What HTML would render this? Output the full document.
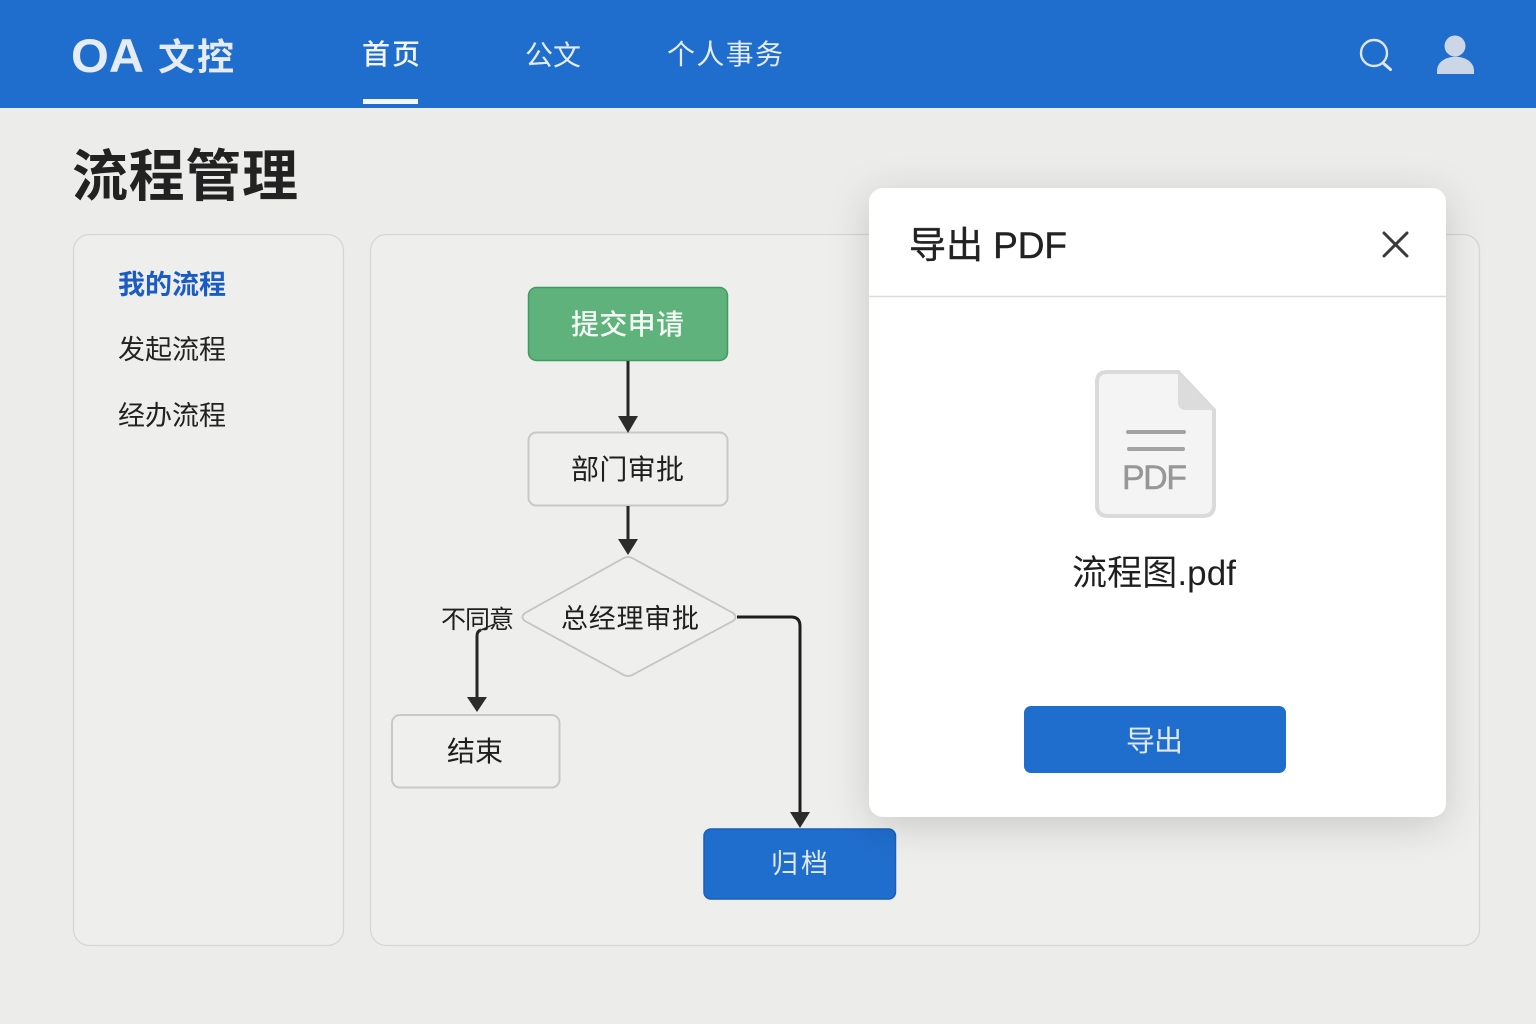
<!DOCTYPE html>
<html lang="zh"><head><meta charset="utf-8"><style>
html,body{margin:0;padding:0;background:#ecedeb}
svg{display:block}
text{font-family:"Liberation Sans","Noto Sans CJK SC",sans-serif}
</style></head><body>
<svg width="1536" height="1024" viewBox="0 0 1536 1024" xmlns="http://www.w3.org/2000/svg">
<defs>
<filter id="s" x="-20%" y="-20%" width="140%" height="140%"><feDropShadow dx="0" dy="8" stdDeviation="20" flood-color="#000" flood-opacity="0.16"/></filter>
</defs>
<rect width="1536" height="1024" fill="#ecedeb"/>
<rect width="1536" height="108" fill="#1f6dcd"/>
<text x="71" y="72" font-size="47" font-weight="700" fill="#e6ecf5" textLength="73" lengthAdjust="spacingAndGlyphs">OA</text>
<text x="158" y="70" font-size="37" font-weight="700" fill="#e6ecf5" textLength="76">文控</text>
<text x="362" y="64" font-size="28" font-weight="500" fill="#f2f5fa" textLength="58">首页</text>
<text x="525" y="65" font-size="28" fill="#e6ecf5" textLength="56">公文</text>
<text x="667" y="64" font-size="28" fill="#e6ecf5" textLength="116">个人事务</text>
<rect x="363" y="99" width="55" height="5" fill="#f4f6fa"/>
<circle cx="1374" cy="53" r="13" fill="none" stroke="#dfe6f2" stroke-width="2.4"/>
<line x1="1383" y1="63" x2="1390.500" y2="69.500" stroke="#dfe6f2" stroke-width="3" stroke-linecap="round"/>
<circle cx="1455" cy="46" r="10.500" fill="#cdd6e6"/>
<path d="M1437 74v-3c0-19 37-19 37 0v3z" fill="#cdd6e6"/>
<text x="72" y="196" font-size="56" font-weight="700" fill="#222" textLength="226">流程管理</text>
<rect x="73.500" y="234.500" width="270" height="711" rx="16" fill="#eeeeec" stroke="#d6d7d5" stroke-width="1.300"/>
<rect x="370.500" y="234.500" width="1109" height="711" rx="16" fill="#eeeeec" stroke="#d6d7d5" stroke-width="1.300"/>
<text x="118" y="294" font-size="27" font-weight="600" fill="#1a5cc4" textLength="108">我的流程</text>
<text x="118" y="359" font-size="27" fill="#222" textLength="108">发起流程</text>
<text x="118" y="425" font-size="27" fill="#222" textLength="108">经办流程</text>
<rect x="528.500" y="287.500" width="199" height="73" rx="8" fill="#60b27c" stroke="#3f9a61" stroke-width="1.500"/>
<text x="571" y="334" font-size="28" font-weight="500" fill="#f2f8f3" textLength="113">提交申请</text>
<rect x="528.500" y="432.500" width="199" height="73" rx="8" fill="#efefed" stroke="#c8c9c7" stroke-width="2"/>
<text x="571" y="479" font-size="28" fill="#1f1f1f" textLength="113">部门审批</text>
<path d="M628 361V418" stroke="#262626" stroke-width="3" fill="none"/>
<path d="M618 416H638L628 433z" fill="#2c2c2c"/>
<path d="M628 506V540" stroke="#262626" stroke-width="3" fill="none"/>
<path d="M618 539H638L628 555z" fill="#2c2c2c"/>
<path d="M622 559Q628 555 634 559L733 613Q738 617 733 621L634 674Q628 678 622 674L525 621Q520 617 525 613z" fill="#efefed" stroke="#c4c5c3" stroke-width="1.800"/>
<text x="561" y="628" font-size="27" fill="#1f1f1f" textLength="138">总经理审批</text>
<text x="441" y="628" font-size="25" fill="#1f1f1f" textLength="73">不同意</text>
<path d="M477 698V636Q477 631 481 630" stroke="#262626" stroke-width="3" fill="none"/>
<path d="M481 630L497 623" stroke="#262626" stroke-width="1.500" fill="none"/>
<path d="M467 697H487L477 712z" fill="#2c2c2c"/>
<rect x="392" y="715" width="167.500" height="72.500" rx="8" fill="#efefed" stroke="#c8c9c7" stroke-width="2"/>
<text x="447" y="761" font-size="28" fill="#1f1f1f" textLength="56">结束</text>
<path d="M737 617H791Q800 617 800 626V814" stroke="#1e1e1e" stroke-width="3" fill="none"/>
<path d="M790 812H810L800 828z" fill="#2c2c2c"/>
<rect x="704" y="829" width="191.500" height="70" rx="7" fill="#1f6dcd" stroke="#1a5fb8" stroke-width="1.500"/>
<text x="771" y="873" font-size="27" fill="#dfe9f6" textLength="57">归档</text>
<rect x="869" y="188" width="577" height="629" rx="14" fill="#fff" filter="url(#s)"/>
<line x1="869" y1="296.500" x2="1446" y2="296.500" stroke="#dddddd" stroke-width="1.500"/>
<text x="909" y="258" font-size="37" fill="#222" stroke="#222" stroke-width="0.400" textLength="158">导出 PDF</text>
<path d="M1384 233L1407 256M1407 233L1384 256" stroke="#3a3a3a" stroke-width="3" stroke-linecap="round"/>
<path d="M1107 372H1178L1214 410V505Q1214 516 1203 516H1108Q1097 516 1097 505V382Q1097 372 1107 372z" fill="#f4f4f4" stroke="#dadada" stroke-width="4"/>
<path d="M1178 372L1214 410H1186Q1178 410 1178 402z" fill="#dcdcdc"/>
<rect x="1126" y="430" width="60" height="4" rx="2" fill="#a3a3a3"/>
<rect x="1127" y="447" width="58" height="4" rx="2" fill="#a3a3a3"/>
<text x="1122" y="489" font-size="34" fill="#979797" stroke="#979797" stroke-width="0.400" textLength="65">PDF</text>
<text x="1072" y="585" font-size="35" fill="#1f1f1f" textLength="164">流程图.pdf</text>
<rect x="1024" y="706" width="262" height="67" rx="7" fill="#1f6dcd"/>
<text x="1126" y="751" font-size="29" fill="#dfe9f6" textLength="57">导出</text>
</svg>
</body></html>
